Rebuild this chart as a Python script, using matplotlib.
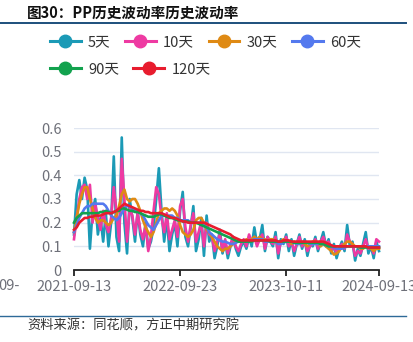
import matplotlib
matplotlib.use("Agg")
import matplotlib.pyplot as plt
from matplotlib.lines import Line2D

plt.rcParams["font.family"] = ["Noto Sans CJK SC", "DejaVu Sans"]

# 历史波动率（按采样序号排列）
vol_5 = [0.15, 0.32, 0.38, 0.30, 0.39, 0.34, 0.09, 0.25, 0.30, 0.15,
         0.22, 0.12, 0.24, 0.10, 0.20, 0.48, 0.14, 0.08, 0.56, 0.20,
         0.07, 0.30, 0.22, 0.12, 0.25, 0.15, 0.10, 0.20, 0.09, 0.12,
         0.18, 0.30, 0.43, 0.25, 0.12, 0.22, 0.08, 0.15, 0.20, 0.10,
         0.25, 0.33, 0.14, 0.10, 0.18, 0.27, 0.08, 0.13, 0.22, 0.06,
         0.23, 0.12, 0.15, 0.05, 0.10, 0.17, 0.07, 0.12, 0.05, 0.10,
         0.14, 0.09, 0.06, 0.10, 0.12, 0.09, 0.14, 0.10, 0.18, 0.11,
         0.13, 0.19, 0.08, 0.14, 0.12, 0.10, 0.16, 0.05, 0.13, 0.11,
         0.15, 0.08, 0.13, 0.06, 0.11, 0.15, 0.09, 0.13, 0.06, 0.11,
         0.10, 0.14, 0.08, 0.12, 0.16, 0.10, 0.13, 0.07, 0.11, 0.05,
         0.09, 0.12, 0.08, 0.19, 0.10, 0.12, 0.04, 0.09, 0.06, 0.11,
         0.16, 0.07, 0.10, 0.05, 0.12, 0.08]
vol_10 = [0.13, 0.22, 0.30, 0.35, 0.36, 0.30, 0.36, 0.20, 0.28, 0.22,
          0.17, 0.25, 0.19, 0.16, 0.22, 0.35, 0.25, 0.12, 0.47, 0.30,
          0.12, 0.26, 0.23, 0.15, 0.24, 0.17, 0.13, 0.19, 0.08, 0.14,
          0.25, 0.35, 0.32, 0.22, 0.16, 0.24, 0.13, 0.17, 0.21, 0.14,
          0.27, 0.30, 0.18, 0.12, 0.19, 0.24, 0.12, 0.16, 0.20, 0.10,
          0.20, 0.15, 0.14, 0.08, 0.12, 0.15, 0.08, 0.13, 0.07, 0.11,
          0.14, 0.10, 0.08, 0.11, 0.13, 0.10, 0.15, 0.12, 0.14, 0.10,
          0.13, 0.15, 0.09, 0.14, 0.12, 0.11, 0.14, 0.07, 0.12, 0.12,
          0.14, 0.10, 0.12, 0.08, 0.11, 0.14, 0.10, 0.12, 0.08, 0.10,
          0.11, 0.13, 0.09, 0.12, 0.14, 0.11, 0.12, 0.08, 0.10, 0.07,
          0.09, 0.11, 0.09, 0.15, 0.12, 0.11, 0.06, 0.08, 0.07, 0.10,
          0.13, 0.09, 0.10, 0.07, 0.13, 0.12]
vol_30 = [0.16, 0.22, 0.28, 0.32, 0.35, 0.35, 0.30, 0.26, 0.22, 0.20,
          0.21, 0.21, 0.20, 0.19, 0.20, 0.22, 0.23, 0.27, 0.32, 0.34,
          0.30, 0.29, 0.30, 0.30, 0.28, 0.25, 0.21, 0.18, 0.16, 0.14,
          0.16, 0.20, 0.24, 0.25, 0.26, 0.26, 0.25, 0.26, 0.25, 0.23,
          0.19, 0.16, 0.15, 0.14, 0.15, 0.17, 0.21, 0.22, 0.22, 0.20,
          0.17, 0.16, 0.14, 0.12, 0.10, 0.09, 0.08, 0.09, 0.09, 0.10,
          0.11, 0.12, 0.12, 0.12, 0.12, 0.13, 0.12, 0.13, 0.14, 0.13,
          0.14, 0.13, 0.13, 0.12, 0.13, 0.13, 0.12, 0.11, 0.12, 0.13,
          0.12, 0.12, 0.11, 0.12, 0.11, 0.11, 0.12, 0.11, 0.10, 0.11,
          0.12, 0.12, 0.11, 0.10, 0.11, 0.10, 0.09, 0.08, 0.065, 0.07,
          0.08, 0.10, 0.11, 0.12, 0.12, 0.11, 0.10, 0.10, 0.09, 0.09,
          0.10, 0.10, 0.09, 0.08, 0.09, 0.09]
vol_60 = [0.16, 0.19, 0.22, 0.24, 0.26, 0.27, 0.27, 0.28, 0.28, 0.28,
          0.28, 0.28, 0.27, 0.25, 0.23, 0.22, 0.21, 0.22, 0.24, 0.26,
          0.27, 0.27, 0.26, 0.25, 0.25, 0.24, 0.23, 0.21, 0.19, 0.18,
          0.17, 0.19, 0.21, 0.23, 0.23, 0.23, 0.23, 0.23, 0.22, 0.22,
          0.21, 0.21, 0.21, 0.21, 0.20, 0.20, 0.20, 0.20, 0.19, 0.19,
          0.18, 0.16, 0.15, 0.14, 0.13, 0.125, 0.12, 0.12, 0.115, 0.11,
          0.11, 0.115, 0.12, 0.12, 0.125, 0.12, 0.12, 0.125, 0.13, 0.13,
          0.13, 0.13, 0.12, 0.12, 0.12, 0.12, 0.12, 0.11, 0.11, 0.115,
          0.12, 0.12, 0.12, 0.115, 0.11, 0.11, 0.115, 0.12, 0.115, 0.11,
          0.11, 0.11, 0.11, 0.11, 0.11, 0.105, 0.10, 0.10, 0.095, 0.09,
          0.09, 0.09, 0.095, 0.10, 0.10, 0.10, 0.10, 0.10, 0.095, 0.095,
          0.10, 0.10, 0.10, 0.10, 0.10, 0.10]
vol_90 = [0.20, 0.22, 0.23, 0.24, 0.24, 0.24, 0.24, 0.24, 0.24, 0.24,
          0.245, 0.245, 0.25, 0.245, 0.24, 0.245, 0.25, 0.25, 0.26, 0.26,
          0.255, 0.25, 0.25, 0.245, 0.245, 0.24, 0.235, 0.23, 0.225, 0.225,
          0.225, 0.23, 0.235, 0.235, 0.23, 0.225, 0.22, 0.22, 0.215, 0.21,
          0.21, 0.205, 0.205, 0.205, 0.20, 0.20, 0.20, 0.195, 0.19, 0.185,
          0.18, 0.175, 0.17, 0.165, 0.16, 0.155, 0.15, 0.145, 0.14, 0.135,
          0.13, 0.125, 0.12, 0.12, 0.12, 0.12, 0.12, 0.12, 0.125, 0.125,
          0.125, 0.125, 0.125, 0.125, 0.12, 0.12, 0.12, 0.12, 0.12, 0.12,
          0.12, 0.12, 0.12, 0.115, 0.115, 0.115, 0.115, 0.115, 0.115, 0.115,
          0.115, 0.115, 0.115, 0.11, 0.11, 0.105, 0.10, 0.10, 0.10, 0.10,
          0.10, 0.10, 0.10, 0.10, 0.10, 0.10, 0.10, 0.10, 0.095, 0.095,
          0.095, 0.095, 0.095, 0.095, 0.095, 0.095]
vol_120 = [0.17, 0.18, 0.20, 0.21, 0.22, 0.22, 0.225, 0.225, 0.23, 0.23,
           0.23, 0.235, 0.24, 0.24, 0.24, 0.245, 0.25, 0.26, 0.27, 0.28,
           0.275, 0.27, 0.265, 0.26, 0.255, 0.25, 0.25, 0.245, 0.245, 0.24,
           0.24, 0.24, 0.24, 0.24, 0.235, 0.23, 0.225, 0.22, 0.22, 0.215,
           0.21, 0.205, 0.205, 0.20, 0.20, 0.20, 0.20, 0.20, 0.20, 0.20,
           0.195, 0.19, 0.185, 0.18, 0.175, 0.17, 0.165, 0.16, 0.155, 0.15,
           0.14, 0.135, 0.13, 0.125, 0.125, 0.125, 0.125, 0.125, 0.125, 0.125,
           0.125, 0.125, 0.125, 0.125, 0.125, 0.125, 0.125, 0.12, 0.12, 0.125,
           0.125, 0.125, 0.12, 0.12, 0.12, 0.12, 0.12, 0.12, 0.12, 0.12,
           0.12, 0.12, 0.12, 0.12, 0.12, 0.115, 0.11, 0.105, 0.10, 0.10,
           0.10, 0.10, 0.10, 0.10, 0.10, 0.10, 0.10, 0.10, 0.10, 0.10,
           0.10, 0.095, 0.095, 0.095, 0.095, 0.095]

series_names = ["5天", "10天", "30天", "60天", "90天", "120天"]
series_colors = ["#1b9ab6", "#ee3aa2", "#df8a14", "#5479ee", "#12a24e", "#e81c2e"]
tick_pos = [0, 40, 80, 115]
tick_labels = ["2021-09-13", "2022-09-23", "2023-10-11", "2024-09-13"]
y_ticks = [0, 0.1, 0.2, 0.3, 0.4, 0.5, 0.6]
y_labels = ["0", "0.1", "0.2", "0.3", "0.4", "0.5", "0.6"]

W, H = 414, 342
fig = plt.figure(figsize=(W / 100, H / 100), dpi=100)
ax = fig.add_axes([74 / W, 1 - 270 / H, 305 / W, 142 / H])

all_series = [vol_5, vol_10, vol_30, vol_60, vol_90, vol_120]
for vals, c in zip(all_series, series_colors):
    ax.plot(range(len(vals)), vals, color=c, lw=1.9, solid_joinstyle="round",
            clip_on=False, zorder=3)

ax.set_xlim(0, 115)
ax.set_ylim(0, 0.6)
ax.set_yticks(y_ticks)
ax.set_yticklabels(y_labels)
ax.set_xticks(tick_pos)
ax.set_xticklabels(tick_labels)
ax.grid(axis="y", color="#e0e6f1", lw=1.0, zorder=0)
for s in ["top", "right", "left"]:
    ax.spines[s].set_visible(False)
ax.spines["bottom"].set_color("#222222")
ax.spines["bottom"].set_linewidth(1.3)
ax.tick_params(axis="y", length=0, pad=9, labelsize=10.5, labelcolor="#6e7079")
ax.tick_params(axis="x", length=4, width=1.3, color="#222222", pad=3,
               labelsize=10.5, labelcolor="#6e7079")

# 图例：两行排布
handles = [Line2D([], [], color=c, lw=2.2, marker="o", ms=9,
                  markeredgecolor=c) for c in series_colors]
leg_kw = dict(frameon=False, fontsize=10.5, handlelength=2.1, handletextpad=0.5,
              columnspacing=1.0, labelcolor="#333333", borderaxespad=0,
              borderpad=0, numpoints=1)
fig.legend(handles[:4], series_names[:4], ncol=4, loc="center left",
           bbox_to_anchor=(50 / W, 1 - 42 / H), **leg_kw)
fig.legend(handles[4:], series_names[4:], ncol=2, loc="center left",
           bbox_to_anchor=(50 / W, 1 - 69 / H), **leg_kw)

fig.text(27 / W, 1 - 13 / H, "图30：PP历史波动率历史波动率", fontsize=10.5,
         fontweight="bold", color="#111111", va="center", ha="left")
fig.add_artist(Line2D([0, 406 / W], [1 - 23 / H, 1 - 23 / H], color="#1d4f7c", lw=1.4))
fig.add_artist(Line2D([0, 406 / W], [1 - 316 / H, 1 - 316 / H], color="#2e6a98", lw=1.0))
fig.text(27 / W, 1 - 326 / H, "资料来源：同花顺，方正中期研究院", fontsize=9.5,
         style="italic", color="#333333", va="center", ha="left")
fig.text(20 / W, 1 - 286 / H, "09-", fontsize=10.5, color="#6e7079",
         va="center", ha="right")

fig.savefig("out.png", dpi=100)
